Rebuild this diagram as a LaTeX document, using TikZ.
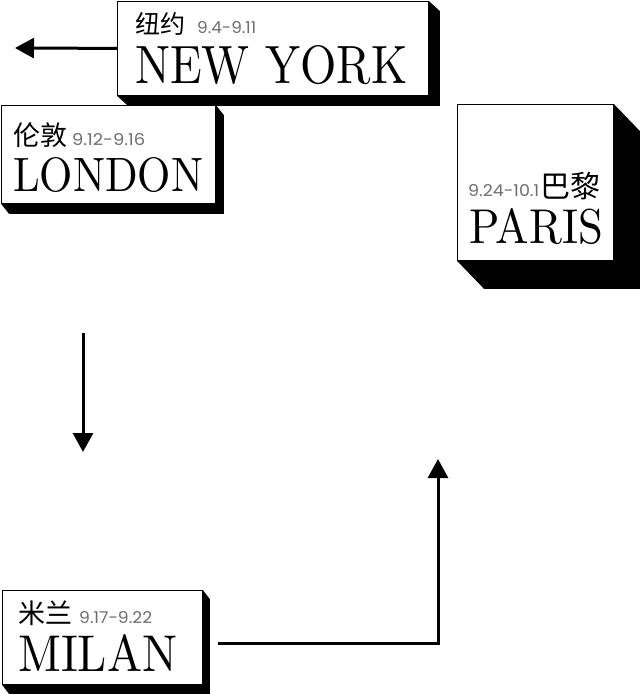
\documentclass[tikz,border=0pt]{standalone}
\usepackage{fontspec}
\usepackage{graphicx}
\newfontfamily\cjk{Noto Sans CJK SC}
\newfontfamily\datef{Poppins}
\usetikzlibrary{arrows.meta}
\definecolor{dategray}{RGB}{110,110,110}
\begin{document}
\begin{tikzpicture}[x=1pt,y=-1pt,
  cardbox/.style={draw=black, line width=0.8pt, fill=white, inner sep=0pt, anchor=north west},
  txt/.style={inner sep=0pt, anchor=north west},
  cjktxt/.style={inner sep=0pt, anchor=base west, font=\cjk\fontsize{27}{27}\selectfont},
  datetxt/.style={inner sep=0pt, anchor=north west, text=dategray},
  flow/.style={line width=3pt, -{Triangle[length=19pt,width=20pt]}}
]
\useasboundingbox (0,0) rectangle (640,694);
\fill[white] (0,0) rectangle (640,694);

% cards with extruded shadows
\node[cardbox, minimum width=311pt, minimum height=94pt] (ny) at (117,1) {};
\fill (ny.north east) -- ([shift={(11,10)}]ny.north east) -- ([shift={(11,10)}]ny.south east) -- ([shift={(11,10)}]ny.south west) -- (ny.south west) -- (ny.south east) -- cycle;

\node[cardbox, minimum width=214pt, minimum height=98pt] (lon) at (1,105) {};
\fill (lon.north east) -- ([shift={(8,10)}]lon.north east) -- ([shift={(8,10)}]lon.south east) -- ([shift={(8,10)}]lon.south west) -- (lon.south west) -- (lon.south east) -- cycle;

\node[cardbox, minimum width=156pt, minimum height=156pt] (par) at (457,104) {};
\fill (par.north east) -- ([shift={(27,28)}]par.north east) -- ([shift={(27,28)}]par.south east) -- ([shift={(27,28)}]par.south west) -- (par.south west) -- (par.south east) -- cycle;

\node[cardbox, minimum width=200pt, minimum height=94pt] (mil) at (2,590) {};
\fill (mil.north east) -- ([shift={(7,9)}]mil.north east) -- ([shift={(7,9)}]mil.south east) -- ([shift={(7,9)}]mil.south west) -- (mil.south west) -- (mil.south east) -- cycle;

% texts
\node[cjktxt, font=\cjk\fontsize{25}{25}\selectfont] (nycn) at (135,33) {纽约};
\node[datetxt] (nydate) at (197,21) {\resizebox{59pt}{12pt}{\datef 9.4-9.11}};
\node[txt] (nyname) at (135,45) {\resizebox{272pt}{38pt}{NEW YORK}};

\node[cjktxt] (loncn) at (13,145) {伦敦};
\node[datetxt] (londate) at (72,133) {\resizebox{73pt}{12pt}{\datef 9.12-9.16}};
\node[txt] (lonname) at (13,157) {\resizebox{190pt}{34pt}{LONDON}};

\node[datetxt] (pardate) at (468,184) {\resizebox{71pt}{12pt}{\datef 9.24-10.1}};
\node[cjktxt, font=\cjk\fontsize{30}{30}\selectfont] (parcn) at (540,197) {巴黎};
\node[txt] (parname) at (469,208) {\resizebox{134pt}{35pt}{PARIS}};

\node[cjktxt] (milcn) at (18,623) {米兰};
\node[datetxt] (mildate) at (79,611) {\resizebox{73pt}{12pt}{\datef 9.17-9.22}};
\node[txt] (milname) at (18,634) {\resizebox{159pt}{37pt}{MILAN}};

% connectors
\coordinate (nyend) at (15,48);
\draw[flow] (ny.west) -- (nyend);

\coordinate (dtop) at (83,333);
\coordinate (dbot) at (83,452);
\draw[flow] (dtop) -- (dbot);

\coordinate (mstart) at (218,643);
\coordinate (mturn) at (438,643);
\coordinate (mtip) at (438,459);
\draw[flow] (mstart) -- (mturn) -- (mtip);
\end{tikzpicture}
\end{document}
